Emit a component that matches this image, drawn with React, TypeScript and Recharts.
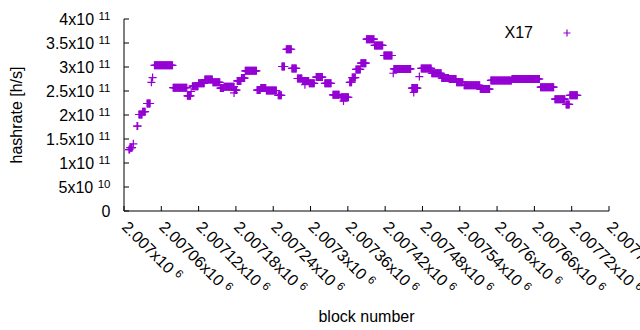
import React from 'react';
import { ScatterChart, Scatter, XAxis, YAxis, Legend } from 'recharts';

const FONT = '"Liberation Sans", Arial, sans-serif';
const PURPLE = '#9400D3';

const BLOCK_BASE = 2007000;

// runs of consecutive blocks sharing one hashrate estimate:
// [first block offset, last block offset, hashrate in units of 1e11 h/s]
const SEGMENTS: [number, number, number][] = [
  [8, 9, 1.28], [10, 13, 1.32], [15, 15, 1.4], [21, 22, 1.77],
  [24, 29, 2.01], [30, 34, 2.07], [37, 42, 2.24], [44, 44, 2.68],
  [46, 46, 2.78], [49, 78, 3.035], [79, 101, 2.57], [102, 107, 2.4],
  [108, 108, 2.49], [110, 119, 2.6], [120, 129, 2.66], [130, 142, 2.74],
  [143, 154, 2.68], [155, 160, 2.56], [161, 177, 2.59], [178, 181, 2.52],
  [182, 188, 2.71], [189, 194, 2.77], [195, 213, 2.92], [214, 219, 2.52],
  [220, 228, 2.56], [229, 245, 2.51], [248, 253, 2.41], [254, 258, 3.01],
  [261, 269, 3.37], [270, 277, 2.97], [279, 286, 2.76], [287, 297, 2.71],
  [298, 306, 2.66], [309, 319, 2.79], [323, 333, 2.66], [336, 346, 2.42],
  [349, 361, 2.37], [363, 366, 2.68], [367, 372, 2.78], [373, 380, 2.95],
  [381, 389, 3.08], [390, 402, 3.58], [403, 416, 3.45], [418, 431, 3.24],
  [434, 461, 2.96], [463, 472, 2.56], [475, 475, 2.8], [478, 494, 2.97],
  [495, 510, 2.87], [511, 522, 2.77], [523, 534, 2.75], [535, 545, 2.68],
  [547, 572, 2.62], [573, 588, 2.54], [590, 623, 2.72], [624, 668, 2.75],
  [670, 691, 2.58], [693, 709, 2.33], [711, 716, 2.22], [717, 729, 2.41],
];

// isolated points that sit off their run
const OUTLIER_OFFSETS = [177, 291, 353, 433, 466];
const OUTLIER_VALUES = [2.46, 2.63, 2.29, 2.87, 2.47];

const X_TICKS = [
  2007000, 2007060, 2007120, 2007180, 2007240, 2007300, 2007360,
  2007420, 2007480, 2007540, 2007600, 2007660, 2007720, 2007780,
];
const X_TICK_LABELS = [
  '2.007x10', '2.00706x10', '2.00712x10', '2.00718x10', '2.00724x10', '2.0073x10', '2.00736x10',
  '2.00742x10', '2.00748x10', '2.00754x10', '2.0076x10', '2.00766x10', '2.00772x10', '2.00778x10',
];
const X_TICK_EXP = '6';

const Y_TICKS = [0, 5e10, 1e11, 1.5e11, 2e11, 2.5e11, 3e11, 3.5e11, 4e11];
const Y_TICK_BASE = ['0', '5x10', '1x10', '1.5x10', '2x10', '2.5x10', '3x10', '3.5x10', '4x10'];
const Y_TICK_EXP = ['', '10', '11', '11', '11', '11', '11', '11', '11'];

const points: { x: number; y: number }[] = [];
SEGMENTS.forEach(([s, e, v]) => {
  for (let b = s; b <= e; b++) points.push({ x: BLOCK_BASE + b, y: v * 1e11 });
});
OUTLIER_OFFSETS.forEach((o, i) => points.push({ x: BLOCK_BASE + o, y: OUTLIER_VALUES[i] * 1e11 }));

const plusShape = (p: any) => (
  <path
    d={`M${p.cx - 4},${p.cy}H${p.cx + 4}M${p.cx},${p.cy - 4}V${p.cy + 4}`}
    stroke={PURPLE}
    strokeWidth={1.2}
    fill="none"
  />
);

function XTick(props: any) {
  const { x, y, payload } = props;
  const i = X_TICKS.indexOf(payload.value);
  const lx = x - 3;
  return (
    <text x={lx} y={y} transform={`rotate(45 ${lx} ${y})`} fontSize={16} fill="#000" fontFamily={FONT}>
      {X_TICK_LABELS[i]}
      <tspan dx={4.5} dy={-5} fontSize={11.5}>{X_TICK_EXP}</tspan>
    </text>
  );
}

function YTick(props: any) {
  const { x, y, payload } = props;
  const i = Y_TICKS.indexOf(payload.value);
  return (
    <text x={x} y={y} textAnchor="end" fontSize={16} fill="#000" fontFamily={FONT}>
      <tspan dy="0.35em">{Y_TICK_BASE[i]}</tspan>
      {Y_TICK_EXP[i] ? (
        <tspan dx={4.5} dy={-5} fontSize={11.5}>{Y_TICK_EXP[i]}</tspan>
      ) : null}
    </text>
  );
}

const LegendContent = () => (
  <svg width={110} height={30} style={{ display: 'block' }}>
    <text x={53} y={19.5} textAnchor="end" fontSize={16} fill="#000" fontFamily={FONT}>X17</text>
    <path d="M83.5,15H90.5M87,11.5V18.5" stroke={PURPLE} strokeWidth={1.2} fill="none" />
  </svg>
);

export default function App() {
  return (
    <div style={{ position: 'absolute', left: 0, top: 0, width: 640, height: 330, background: '#fff', fontFamily: FONT }}>
      <ScatterChart width={640} height={330} margin={{ top: 19, right: 31, bottom: 0, left: 0 }}>
        <XAxis
          xAxisId="b"
          type="number"
          dataKey="x"
          domain={[2007000, 2007780]}
          ticks={X_TICKS}
          interval={0}
          allowDataOverflow
          height={119}
          tickSize={-5}
          tickMargin={22}
          stroke="#000"
          tickLine={{ stroke: '#000' }}
          tick={XTick}
          label={{ value: 'block number', position: 'insideBottom', offset: 8, fill: '#000', fontSize: 16, fontFamily: FONT }}
        />
        <XAxis
          xAxisId="t"
          orientation="top"
          type="number"
          domain={[2007000, 2007780]}
          ticks={X_TICKS}
          interval={0}
          allowDataOverflow
          height={0}
          tickSize={-5}
          stroke="#000"
          tickLine={{ stroke: '#000' }}
          tick={false}
        />
        <YAxis
          yAxisId="l"
          type="number"
          dataKey="y"
          domain={[0, 4e11]}
          ticks={Y_TICKS}
          interval={0}
          allowDataOverflow
          width={124}
          tickSize={-5}
          tickMargin={18.5}
          stroke="#000"
          tickLine={{ stroke: '#000' }}
          tick={YTick}
          label={{
            content: (lp: any) => {
              const vb = lp.viewBox;
              const cx = vb.x + 21.5;
              const cy = vb.y + vb.height / 2;
              return (
                <text x={cx} y={cy} transform={`rotate(-90 ${cx} ${cy})`} textAnchor="middle" fontSize={16} fill="#000" fontFamily={FONT}>
                  hashrate [h/s]
                </text>
              );
            },
          }}
        />
        <YAxis
          yAxisId="r"
          orientation="right"
          type="number"
          domain={[0, 4e11]}
          ticks={Y_TICKS}
          interval={0}
          allowDataOverflow
          width={0}
          tickSize={-5}
          stroke="#000"
          tickLine={{ stroke: '#000' }}
          tick={false}
        />
        <Legend
          layout="vertical"
          align="center"
          verticalAlign="middle"
          wrapperStyle={{ position: 'absolute', left: 480, top: 18, width: 110, height: 30 }}
          content={LegendContent}
        />
        <Scatter
          name="X17"
          xAxisId="b"
          yAxisId="l"
          data={points}
          shape={plusShape}
          fill={PURPLE}
          isAnimationActive={false}
        />
      </ScatterChart>
    </div>
  );
}
